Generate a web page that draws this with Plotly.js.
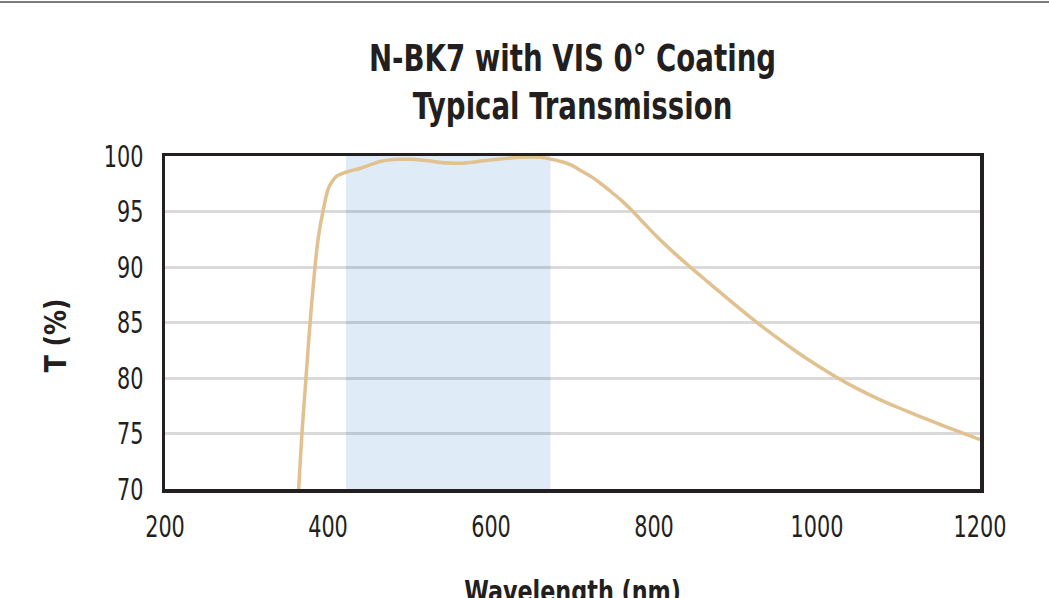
<!DOCTYPE html>
<html>
<head>
<meta charset="utf-8">
<script src="https://cdn.plot.ly/plotly-3.0.1.min.js"></script>
<style>
  html, body { margin: 0; padding: 0; background: #fff; }
  #topline { position: absolute; left: 0; top: 1px; width: 1049px; height: 2px; background: #7d7d7d; z-index: 5; }
  #chart { width: 1049px; height: 598px; }
</style>
</head>
<body>
<div id="topline"></div>
<div id="chart"></div>
<script>
// Wavelength (nm)
const wavelength = [350, 360, 364, 368, 373, 378, 384, 388, 394, 400, 405, 411, 415, 425, 440, 452, 464, 476, 489, 501, 514, 526, 538, 550, 563, 575, 588, 600, 612, 624, 637, 649, 661, 673, 686, 698, 710, 723, 735, 747, 760, 772, 786, 800, 825, 850, 875, 900, 925, 950, 975, 1000, 1025, 1050, 1075, 1100, 1125, 1150, 1175, 1200];
// Transmission (%)
const transmission = [58, 66, 70, 75, 80, 85, 90, 92.6, 95.1, 97.0, 97.7, 98.2, 98.35, 98.6, 98.9, 99.2, 99.5, 99.65, 99.7, 99.7, 99.64, 99.55, 99.42, 99.36, 99.34, 99.42, 99.55, 99.65, 99.73, 99.82, 99.88, 99.9, 99.88, 99.72, 99.5, 99.2, 98.7, 98.14, 97.5, 96.8, 96.0, 95.15, 94.08, 93.0, 91.25, 89.65, 88.1, 86.57, 85.08, 83.68, 82.37, 81.15, 80.03, 79.02, 78.12, 77.32, 76.57, 75.85, 75.14, 74.45];
// Coating design band (nm)
const coatingBand = [422, 673];
const xTicks = [200, 400, 600, 800, 1000, 1200];
const yTicks = [70, 75, 80, 85, 90, 95, 100];

const face = '"DejaVu Sans Condensed", "DejaVu Sans", sans-serif';
const ink = '#231f20';

const trace = {
  x: wavelength,
  y: transmission,
  type: 'scatter',
  mode: 'lines',
  line: { color: '#e2c191', width: 3.5, shape: 'spline', smoothing: 0.7 },
  hoverinfo: 'x+y'
};

const layout = {
  width: 1049,
  height: 598,
  margin: { l: 165, r: 69, t: 156, b: 109 },
  paper_bgcolor: '#ffffff',
  plot_bgcolor: '#ffffff',
  showlegend: false,
  title: {
    text: 'N-BK7 with VIS 0° Coating<br>Typical Transmission',
    font: { family: face, size: 37, color: ink, weight: 'bold' },
    x: 0.5, xref: 'paper', xanchor: 'center',
    y: 0.882, yref: 'container', yanchor: 'top'
  },
  xaxis: {
    range: [200, 1200],
    tickvals: xTicks,
    ticktext: xTicks.map(String),
    showgrid: false,
    zeroline: false,
    showline: true, mirror: true, linecolor: ink, linewidth: 3.5,
    ticks: '',
    ticklabelstandoff: 9,
    tickfont: { family: face, size: 30, color: ink },
    fixedrange: true
  },
  yaxis: {
    range: [70, 100],
    tickvals: yTicks,
    ticktext: yTicks.map(String),
    showgrid: true, gridcolor: 'rgba(0,0,0,0.145)', gridwidth: 3,
    zeroline: false,
    showline: true, mirror: true, linecolor: ink, linewidth: 3.5,
    ticks: '',
    ticklabelstandoff: 12,
    tickfont: { family: face, size: 30, color: ink },
    fixedrange: true
  },
  shapes: [{
    type: 'rect', xref: 'x', yref: 'paper',
    x0: coatingBand[0], x1: coatingBand[1], y0: 0, y1: 1,
    fillcolor: '#dfecf7', line: { width: 0 }, layer: 'below'
  }],
  annotations: [
    {
      text: 'T (%)', textangle: -90, showarrow: false,
      xref: 'paper', yref: 'paper', x: -0.135, y: 0.462,
      xanchor: 'center', yanchor: 'middle',
      font: { family: face, size: 30, color: ink, weight: 'bold' }
    },
    {
      text: 'Wavelength (nm)', showarrow: false,
      xref: 'paper', yref: 'paper', x: 0.5, y: -0.245,
      xanchor: 'center', yanchor: 'top',
      font: { family: face, size: 31, color: ink, weight: 'bold' }
    }
  ]
};

// Condense glyphs horizontally (along the reading direction) to mimic a condensed typeface.
function condense(el, s) {
  const bb = el.getBBox();
  const anchor = el.getAttribute('text-anchor') || getComputedStyle(el).textAnchor || 'start';
  let ax = bb.x;
  if (anchor === 'middle') ax = bb.x + bb.width / 2;
  else if (anchor === 'end') ax = bb.x + bb.width;
  const prev = el.getAttribute('transform') || '';
  el.setAttribute('transform', (prev + ' translate(' + ax + ',0) scale(' + s + ',1) translate(' + (-ax) + ',0)').trim());
}

Plotly.newPlot('chart', [trace], layout, { displayModeBar: false, staticPlot: true }).then(function (gd) {
  gd.querySelectorAll('.gtitle').forEach(function (t) { condense(t, 0.83); });
  gd.querySelectorAll('.xtick text, .ytick text').forEach(function (t) { condense(t, 0.77); });
  gd.querySelectorAll('.annotation-text').forEach(function (t) {
    condense(t, t.textContent.indexOf('Wavelength') >= 0 ? 0.8 : 0.93);
  });
});
</script>
</body>
</html>
